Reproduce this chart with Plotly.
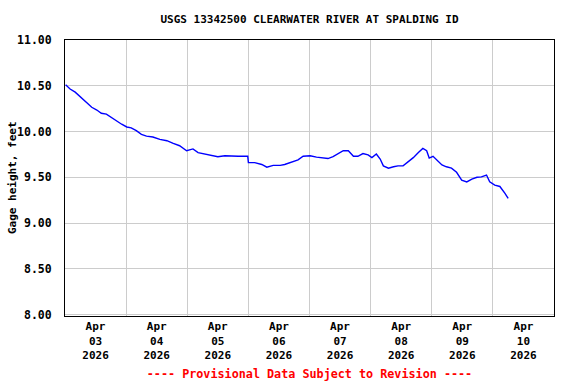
import pandas as pd
import plotly.graph_objects as go

# Hours since 2026-04-03 00:00 (local) and gage height in feet
hours = [0.25, 2, 4, 6.5, 8.5, 10.5, 12.5, 14.25, 16.25, 18.25, 20.25, 22.25,
         24.25, 26, 28, 30, 32, 34.5, 37.25, 40, 42.5, 45, 47.75,
         50.25, 52.25, 55, 57.5, 60, 62.75, 65.5, 68, 70.5, 71.75,
         72, 74.5, 77.25, 79.25, 81.75, 84.5, 86.25, 89, 91.5, 93.5,
         96.25, 98.75, 101.5, 103.25, 105.25, 107.25, 109.25, 111.25, 113.25,
         115, 117, 119,
         120.5, 122.25, 123.75, 125, 127, 129, 130.75, 132.75, 134.75, 136.75,
         138.75, 140.5, 142, 143, 144.5, 146.5,
         148, 149.75, 151.75, 153.75, 155.75, 157.75, 159.75, 161.75, 163.5,
         165.5, 166.75, 168.75, 170.75, 172.75, 174]
gage_ft = [10.51, 10.465, 10.43, 10.37, 10.32, 10.265, 10.235, 10.20, 10.19, 10.15, 10.115, 10.08,
           10.05, 10.04, 10.01, 9.97, 9.95, 9.94, 9.915, 9.90, 9.87, 9.845, 9.79,
           9.81, 9.77, 9.755, 9.74, 9.725, 9.735, 9.73, 9.73, 9.73, 9.73,
           9.66, 9.66, 9.64, 9.61, 9.63, 9.63, 9.64, 9.665, 9.69, 9.73,
           9.735, 9.72, 9.71, 9.705, 9.725, 9.755, 9.79, 9.79, 9.73,
           9.73, 9.76, 9.745,
           9.715, 9.755, 9.70, 9.625, 9.60, 9.615, 9.625, 9.625, 9.665, 9.715,
           9.77, 9.815, 9.79, 9.71, 9.73, 9.67,
           9.635, 9.615, 9.60, 9.555, 9.47, 9.45, 9.48, 9.50, 9.505,
           9.525, 9.45, 9.415, 9.40, 9.325, 9.27]

start = pd.Timestamp("2026-04-03 00:00")
times = [start + pd.Timedelta(hours=h) for h in hours]

x_range = ["2026-04-03 00:00", "2026-04-11 00:00"]
y_range = [7.985, 11.0]
y_ticks = [8.0, 8.5, 9.0, 9.5, 10.0, 10.5, 11.0]

title_text = "USGS 13342500 CLEARWATER RIVER AT SPALDING ID"
y_title = "Gage height, feet"
x_title = "---- Provisional Data Subject to Revision ----"

FONT = "DejaVu Sans Mono"
ML, MR, MT, MB = 65, 22, 40, 68
W, H = 576, 384

fig = go.Figure()
fig.add_trace(go.Scatter(x=times, y=gage_ft, mode="lines",
                         line=dict(color="#0000FF", width=1.4),
                         showlegend=False, hoverinfo="x+y"))

fig.update_layout(
    width=W, height=H,
    margin=dict(l=ML, r=MR, t=MT, b=MB),
    paper_bgcolor="white", plot_bgcolor="white",
    font=dict(family=FONT, color="black", size=11, weight="bold"),
    title=dict(text=title_text, x=0.5, xref="paper", xanchor="center",
               y=1 - 19 / H, yref="container", yanchor="middle",
               font=dict(family=FONT, size=11, color="black", weight="bold")),
)

# y-axis title placed as rotated text in the left margin
fig.add_annotation(text=y_title, textangle=-90, showarrow=False,
                   xref="paper", yref="paper",
                   x=(12 - ML) / (W - ML - MR), y=0.5,
                   xanchor="center", yanchor="middle",
                   font=dict(family=FONT, size=11, color="black", weight="bold"))

fig.update_xaxes(
    range=x_range, type="date", automargin=False,
    dtick=86400000, tick0="2026-04-03 00:00",
    ticklabelmode="period", tickformat="%b<br>%d<br>%Y",
    showgrid=True, gridcolor="#cccccc", gridwidth=1,
    showline=True, linecolor="black", linewidth=1, mirror=True,
    ticks="", zeroline=False,
    tickfont=dict(family=FONT, size=11, color="black", weight="bold"),
    title=dict(text=x_title, standoff=8,
               font=dict(family=FONT, size=11.75, color="#FF0000", weight="bold")),
)

fig.update_yaxes(
    range=y_range, tickvals=y_ticks, tickformat=".2f", automargin=False,
    showgrid=True, gridcolor="#cccccc", gridwidth=1,
    showline=True, linecolor="black", linewidth=1, mirror=True,
    ticks="", zeroline=False, ticklabelstandoff=10,
    tickfont=dict(family=FONT, size=11.5, color="black", weight="bold"),
)

fig.write_html("out.html", config={"displayModeBar": False},
               post_script="document.body.style.margin='0';document.body.style.overflow='hidden';")
